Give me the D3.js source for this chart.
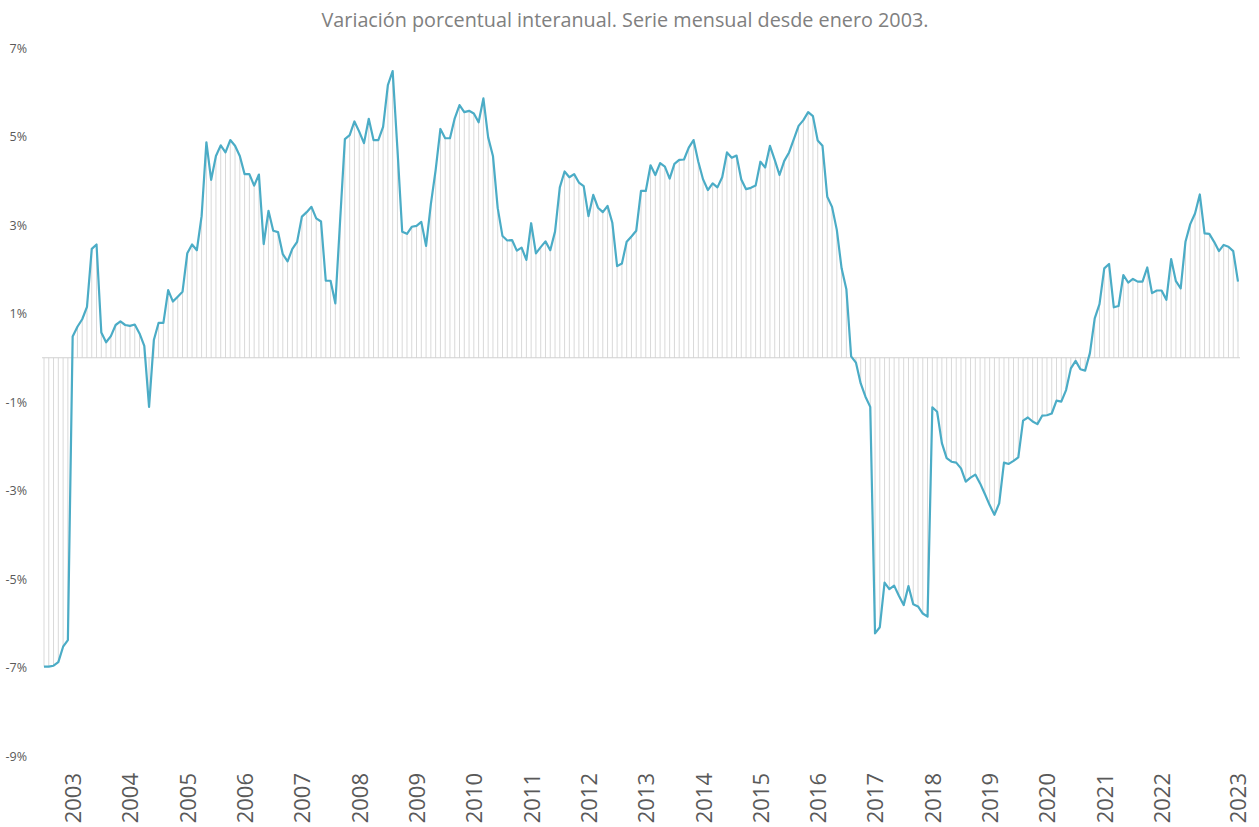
<!DOCTYPE html>
<html>
<head>
<meta charset="utf-8">
<script src="https://cdn.jsdelivr.net/npm/d3@7"></script>
<style>
  body { margin: 0; background: #fff; }
  svg { display: block; font-family: "Open Sans", sans-serif; }
</style>
</head>
<body>
<svg id="chart" width="1259" height="827"></svg>
<script>
// variacion interanual (%), serie mensual desde enero 2003, 12 valores por fila
var valores = [
  -6.98, -6.98, -6.96, -6.88, -6.53, -6.38, 0.48, 0.70, 0.87, 1.15, 2.46, 2.56,
  0.57, 0.35, 0.49, 0.74, 0.82, 0.74, 0.72, 0.75, 0.55, 0.27, -1.11, 0.40,
  0.79, 0.79, 1.53, 1.27, 1.38, 1.49, 2.36, 2.56, 2.43, 3.20, 4.87, 4.02,
  4.56, 4.80, 4.64, 4.92, 4.79, 4.56, 4.15, 4.15, 3.89, 4.14, 2.57, 3.32,
  2.87, 2.84, 2.34, 2.18, 2.46, 2.62, 3.19, 3.29, 3.41, 3.15, 3.08, 1.74,
  1.74, 1.23, 3.10, 4.94, 5.03, 5.34, 5.11, 4.85, 5.40, 4.92, 4.92, 5.22,
  6.16, 6.48, 4.72, 2.85, 2.80, 2.96, 2.98, 3.07, 2.53, 3.47, 4.24, 5.17,
  4.96, 4.96, 5.41, 5.71, 5.55, 5.58, 5.52, 5.32, 5.86, 4.98, 4.56, 3.38,
  2.75, 2.65, 2.66, 2.42, 2.49, 2.21, 3.04, 2.36, 2.50, 2.63, 2.43, 2.85,
  3.85, 4.21, 4.08, 4.15, 3.96, 3.88, 3.20, 3.68, 3.39, 3.29, 3.43, 3.05,
  2.07, 2.13, 2.62, 2.74, 2.87, 3.77, 3.77, 4.35, 4.13, 4.40, 4.32, 4.05,
  4.38, 4.47, 4.48, 4.75, 4.92, 4.43, 4.03, 3.79, 3.94, 3.85, 4.08, 4.64,
  4.52, 4.57, 4.03, 3.81, 3.84, 3.89, 4.43, 4.30, 4.79, 4.47, 4.13, 4.45,
  4.64, 4.94, 5.24, 5.37, 5.55, 5.46, 4.91, 4.79, 3.64, 3.41, 2.89, 2.02,
  1.55, 0.03, -0.11, -0.58, -0.88, -1.11, -6.23, -6.09, -5.08, -5.23, -5.15, -5.38,
  -5.59, -5.16, -5.57, -5.62, -5.78, -5.85, -1.12, -1.22, -1.93, -2.27, -2.35, -2.37,
  -2.50, -2.80, -2.71, -2.64, -2.84, -3.08, -3.33, -3.55, -3.29, -2.37, -2.40, -2.33,
  -2.25, -1.42, -1.35, -1.44, -1.50, -1.31, -1.30, -1.26, -0.97, -0.99, -0.73, -0.24,
  -0.07, -0.26, -0.29, 0.11, 0.89, 1.21, 2.02, 2.12, 1.14, 1.17, 1.87, 1.70,
  1.78, 1.72, 1.72, 2.04, 1.46, 1.52, 1.52, 1.31, 2.23, 1.73, 1.57, 2.62,
  3.02, 3.26, 3.69, 2.81, 2.80, 2.62, 2.41, 2.55, 2.51, 2.41, 1.72
];

var anios = ["2003", "2004", "2005", "2006", "2007", "2008", "2009", "2010", "2011", "2012",
             "2013", "2014", "2015", "2016", "2017", "2018", "2019", "2020", "2021", "2022", "2023"];
var ticksY = [-9, -7, -5, -3, -1, 1, 3, 5, 7];
var titulo = "Variación porcentual interanual. Serie mensual desde enero 2003.";

var fmtMes = d3.timeFormat("%Y-%m");
var meses = valores.map(function(v, i){ return fmtMes(new Date(2003, i, 1)); });
var datos = valores.map(function(v, i){ return {mes: meses[i], valor: v}; });

// etiqueta de cada año a mitad de año; la ultima sobre el ultimo dato
var ticksX = anios.map(function(a, i){
    return i == anios.length - 1 ? meses[meses.length - 1] : a + "-07";
});
var etiqueta = {};
ticksX.forEach(function(m, i){ etiqueta[m] = anios[i]; });

var svg = d3.select("#chart");

var x = d3.scalePoint().domain(meses).range([44, 1238]);
var y = d3.scaleLinear().domain([-9, 7]).range([756, 48]);

svg.append("text")
    .attr("x", 625).attr("y", 27)
    .attr("text-anchor", "middle")
    .attr("fill", "#808080")
    .style("font-size", "19.8px")
    .text(titulo);

// lineas verticales hasta el cero
svg.append("g").selectAll("line")
    .data(datos).enter().append("line")
    .attr("x1", function(d){ return x(d.mes); })
    .attr("x2", function(d){ return x(d.mes); })
    .attr("y1", y(0))
    .attr("y2", function(d){ return y(d.valor); })
    .attr("stroke", "#d9d9d9")
    .attr("stroke-width", 1);

// eje horizontal en cero
svg.append("line")
    .attr("x1", 42).attr("x2", 1240)
    .attr("y1", y(0)).attr("y2", y(0))
    .attr("stroke", "#d0d0d0")
    .attr("stroke-width", 1.2);

var yAxis = svg.append("g")
    .attr("transform", "translate(30,0)")
    .call(d3.axisLeft(y).tickValues(ticksY).tickSize(0).tickPadding(3)
        .tickFormat(function(d){ return d + "%"; }));
yAxis.select(".domain").remove();
yAxis.selectAll("text")
    .attr("fill", "#595959")
    .style("font-size", "12.5px")
    .style("font-family", "'Open Sans', sans-serif");

var xAxis = svg.append("g")
    .attr("transform", "translate(0,773)")
    .call(d3.axisBottom(x).tickValues(ticksX).tickSize(0)
        .tickFormat(function(d){ return etiqueta[d]; }));
xAxis.select(".domain").remove();
xAxis.selectAll("text")
    .attr("x", 0).attr("y", 0).attr("dy", "0.36em")
    .attr("transform", "rotate(-90)")
    .attr("text-anchor", "end")
    .attr("fill", "#595959")
    .style("font-size", "22px")
    .style("font-family", "'Open Sans', sans-serif");

var linea = d3.line()
    .x(function(d){ return x(d.mes); })
    .y(function(d){ return y(d.valor); });

svg.append("path")
    .datum(datos)
    .attr("d", linea)
    .attr("fill", "none")
    .attr("stroke", "#4bacc6")
    .attr("stroke-width", 2.2)
    .attr("stroke-linejoin", "round");
</script>
</body>
</html>
